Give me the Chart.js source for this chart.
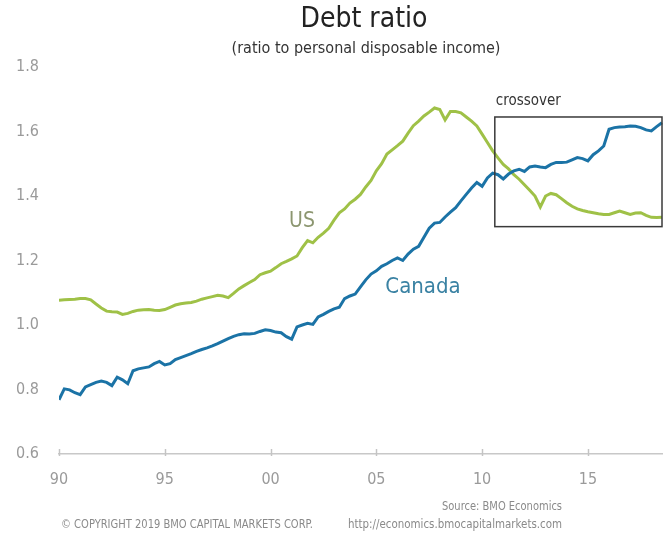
<!DOCTYPE html>
<html lang="en">
<head>
<meta charset="UTF-8">
<title>Debt ratio</title>
<style>
  html, body { margin: 0; padding: 0; background: #fff; }
  #wrap { width: 663px; height: 535px; }
</style>
</head>
<body>
<div id="wrap"><canvas id="debt-chart"></canvas></div>

<script src="https://cdn.jsdelivr.net/npm/chart.js@4.4.1/dist/chart.umd.min.js"></script>
<script>
// quarterly series, first quarter of 1990 onwards
const startYear = 1990;

const usRatio = [
  1.077, 1.078, 1.079, 1.080, 1.082, 1.082, 1.078, 1.065,
  1.053, 1.043, 1.041, 1.040, 1.033, 1.036, 1.042, 1.046,
  1.047, 1.048, 1.046, 1.045, 1.048, 1.055, 1.062, 1.066,
  1.068, 1.070, 1.074, 1.080, 1.084, 1.088, 1.092, 1.090,
  1.085, 1.098, 1.112, 1.122, 1.132, 1.141, 1.156, 1.162,
  1.167, 1.178, 1.190, 1.197, 1.205, 1.214, 1.240, 1.262,
  1.255, 1.272, 1.285, 1.300, 1.325, 1.348, 1.360, 1.378,
  1.390, 1.405, 1.428, 1.448, 1.478, 1.500, 1.530, 1.543,
  1.556, 1.570, 1.595, 1.618, 1.632, 1.648, 1.660, 1.673,
  1.668, 1.636, 1.662, 1.662, 1.658, 1.645, 1.632, 1.617,
  1.592, 1.566, 1.540, 1.518, 1.498, 1.484, 1.466, 1.452,
  1.435, 1.418, 1.400, 1.366, 1.400, 1.408, 1.404, 1.392,
  1.379, 1.368, 1.360, 1.355, 1.351, 1.348, 1.345, 1.343,
  1.343, 1.348, 1.353, 1.348, 1.343, 1.347, 1.348, 1.340,
  1.334, 1.333, 1.334
];

const canadaRatio = [
  0.768, 0.802, 0.799, 0.790, 0.784, 0.808, 0.815, 0.822,
  0.826, 0.822, 0.812, 0.838, 0.830, 0.818, 0.858, 0.864,
  0.867, 0.870, 0.880, 0.887, 0.876, 0.880, 0.893, 0.899,
  0.905, 0.911, 0.918, 0.924, 0.929, 0.935, 0.942, 0.950,
  0.958, 0.965, 0.970, 0.973, 0.972, 0.974, 0.980, 0.985,
  0.983, 0.978, 0.976, 0.964, 0.956, 0.994, 1.000, 1.005,
  1.002, 1.025, 1.033, 1.042, 1.050, 1.055, 1.082, 1.090,
  1.096, 1.118, 1.140, 1.158, 1.168, 1.182, 1.190, 1.200,
  1.208, 1.200, 1.220, 1.235, 1.244, 1.272, 1.300, 1.316,
  1.318, 1.335, 1.350, 1.364, 1.385, 1.405, 1.425, 1.442,
  1.430, 1.456, 1.471, 1.466, 1.453, 1.468, 1.478, 1.483,
  1.476, 1.490, 1.493, 1.490, 1.488, 1.498, 1.504, 1.504,
  1.505, 1.512, 1.519, 1.516, 1.509, 1.528, 1.540, 1.555,
  1.607, 1.612, 1.614, 1.615, 1.617, 1.616, 1.612, 1.605,
  1.602, 1.615, 1.627
];

const tickYears = [1990, 1995, 2000, 2005, 2010, 2015];
const tickLabels = ['90', '95', '00', '05', '10', '15'];

// boxed period, in axis units
const crossover = { from: 2010.6, to: 2018.55, low: 1.305, high: 1.645 };

const FONT = "'Liberation Sans Narrow', 'DejaVu Sans Condensed', 'Open Sans', sans-serif";
const GREEN = '#9fc147';
const BLUE = '#1b73a6';

const toPoints = arr => arr.map((v, i) => ({ x: startYear + i / 4, y: v }));

// squeeze a text line to a given width (the footer font is very narrow)
function fitText(ctx, text, x, y, width, align) {
  const w = ctx.measureText(text).width;
  const sx = Math.min(1, width / w);
  ctx.save();
  ctx.translate(x, y);
  ctx.scale(sx, 1);
  ctx.textAlign = align;
  ctx.fillText(text, 0, 0);
  ctx.restore();
}

const extras = {
  id: 'extras',
  afterDraw(chart) {
    const { ctx, scales: { x, y }, chartArea } = chart;
    ctx.save();

    // small tick marks across the x axis line
    ctx.strokeStyle = '#c4c4c4';
    ctx.lineWidth = 1.5;
    tickYears.forEach(v => {
      const px = Math.round(x.getPixelForValue(v)) + 0.5;
      ctx.beginPath();
      ctx.moveTo(px, chartArea.bottom - 5);
      ctx.lineTo(px, chartArea.bottom + 2);
      ctx.stroke();
    });

    // crossover box
    const bx = x.getPixelForValue(crossover.from);
    const bx2 = Math.min(x.getPixelForValue(crossover.to), chart.width - 1);
    const by = y.getPixelForValue(crossover.high);
    const by2 = y.getPixelForValue(crossover.low);
    ctx.strokeStyle = '#3a3a3a';
    ctx.lineWidth = 1.5;
    ctx.strokeRect(bx, by, bx2 - bx, by2 - by);

    ctx.fillStyle = '#333';
    ctx.font = '15px ' + FONT;
    ctx.textAlign = 'left';
    ctx.textBaseline = 'middle';
    ctx.fillText('crossover', bx + 1, by - 16);

    // series labels
    ctx.textAlign = 'center';
    ctx.font = '21px ' + FONT;
    ctx.fillStyle = '#8c9670';
    ctx.fillText('US', 302, 222);
    ctx.fillStyle = '#3a82a3';
    ctx.font = '22px ' + FONT;
    ctx.fillText('Canada', 423, 287);

    // title
    ctx.fillStyle = '#222';
    ctx.font = '28px ' + FONT;
    ctx.fillText('Debt ratio', 364, 20);
    ctx.fillStyle = '#333';
    ctx.font = '16px ' + FONT;
    fitText(ctx, '(ratio to personal disposable income)', 366, 49, 308, 'center');

    // footer
    ctx.fillStyle = '#8a8a8a';
    ctx.font = '13px ' + FONT;
    fitText(ctx, 'Source: BMO Economics', 562, 507, 120, 'right');
    fitText(ctx, '\u00A9 COPYRIGHT 2019 BMO CAPITAL MARKETS CORP.', 61, 525, 252, 'left');
    fitText(ctx, 'http://economics.bmocapitalmarkets.com', 562, 525, 214, 'right');

    ctx.restore();
  }
};

const chart = new Chart(document.getElementById('debt-chart'), {
  type: 'line',
  data: {
    datasets: [
      {
        label: 'Canada',
        data: toPoints(canadaRatio),
        borderColor: BLUE,
        borderWidth: 3,
        pointRadius: 0,
        tension: 0
      },
      {
        label: 'US',
        data: toPoints(usRatio),
        borderColor: GREEN,
        borderWidth: 3,
        pointRadius: 0,
        tension: 0
      }
    ]
  },
  options: {
    responsive: true,
    maintainAspectRatio: false,
    animation: false,
    layout: { padding: { top: 67, right: 0, bottom: 0, left: 0 } },
    plugins: {
      legend: { display: false },
      tooltip: { enabled: false }
    },
    scales: {
      x: {
        type: 'linear',
        min: startYear,
        max: 2018.55,
        afterBuildTicks: s => { s.ticks = tickYears.map(v => ({ value: v })); },
        afterFit: s => { s.height = 81; },
        grid: { drawOnChartArea: false, drawTicks: false },
        border: { display: true, color: '#c8c8c8', width: 1.5 },
        ticks: {
          autoSkip: false,
          maxRotation: 0,
          padding: 16,
          color: '#9a9a9a',
          font: { family: FONT, size: 16 },
          callback: v => tickLabels[tickYears.indexOf(v)]
        }
      },
      y: {
        min: 0.6,
        max: 1.8,
        afterFit: s => { s.width = 59; },
        grid: { display: false, drawTicks: false },
        border: { display: false },
        ticks: {
          stepSize: 0.2,
          padding: 20,
          color: '#9a9a9a',
          font: { family: FONT, size: 16 },
          callback: v => v.toFixed(1)
        }
      }
    }
  },
  plugins: [extras]
});
</script>
</body>
</html>
